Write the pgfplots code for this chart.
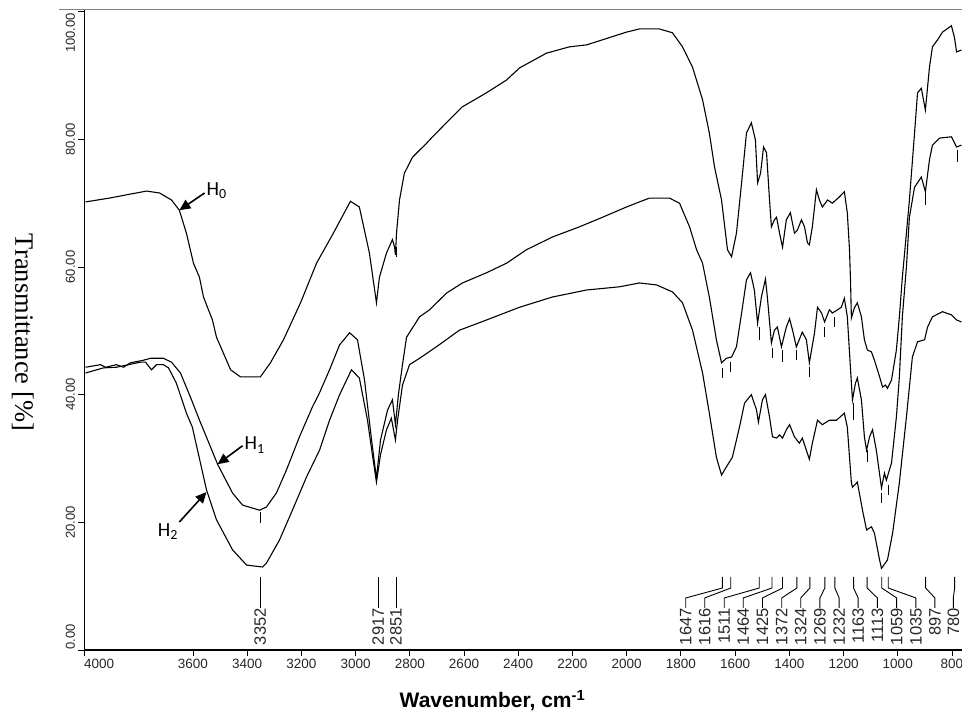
\documentclass[border=0pt]{standalone}
\usepackage{fontspec}
\setmainfont{Liberation Sans}
\newfontfamily\seriffont{Liberation Serif}
\newfontfamily\calibrifont{Carlito}
\usepackage{pgfplots}
\pgfplotsset{compat=1.18}
\usetikzlibrary{arrows.meta}
\newcommand\peakfont{\fontsize{16.5}{18}\selectfont}
\newcommand\ytfont{\fontsize{13}{15}\selectfont}
\newcommand\peaklab[3]{\draw[line width=0.9pt] (axis cs:#1,11.44) -- (axis cs:#1,9.71) -- (axis cs:#2,8.15) -- (axis cs:#2,6.58) node[rotate=90, anchor=east, inner sep=0pt, font=\peakfont, text=black!85] {#3};}
\newcommand\tk[3]{\draw[line width=0.9pt] (axis cs:#1,#2) -- (axis cs:#1,#3);}

\pgfplotstableread{
w v
3996 70.2
3908 70.8
3834 71.4
3771 71.9
3723 71.6
3679 70.5
3650 68.9
3624 65.3
3598 60.6
3576 58.4
3561 55.3
3528 51.7
3513 49.0
3461 43.9
3425 42.8
3351 42.8
3314 45.0
3266 48.6
3203 54.4
3144 60.6
3082 65.3
3019 70.3
2986 69.4
2949 62.2
2923 54.4
2912 58.4
2886 62.2
2864 64.3
2856 63.1
2853 61.9
2849 65.3
2838 70.5
2820 74.7
2790 77.2
2738 79.4
2716 80.4
2665 82.6
2606 85.1
2517 87.3
2443 89.3
2395 91.2
2296 93.5
2211 94.5
2148 94.8
2089 95.6
2001 96.8
1953 97.3
1879 97.3
1831 96.7
1794 94.5
1757 91.3
1720 86.2
1695 81.0
1676 75.7
1650 70.5
1628 62.7
1613 61.6
1595 65.3
1576 73.2
1558 81.0
1540 82.6
1525 79.9
1517 73.2
1506 74.7
1495 78.8
1484 77.9
1473 70.5
1466 66.3
1455 67.4
1447 67.8
1436 65.3
1425 63.1
1411 67.4
1396 68.5
1381 65.3
1370 65.8
1355 67.4
1344 66.3
1333 63.8
1326 63.5
1315 66.3
1300 72.1
1289 70.5
1278 69.4
1259 70.5
1241 70.0
1215 71.0
1197 71.8
1186 68.5
1178 62.7
1174 57.5
1171 52.0
1160 53.6
1149 54.4
1134 52.2
1123 48.6
1112 47.0
1097 46.7
1086 45.4
1067 42.8
1056 41.2
1045 41.5
1038 41.0
1023 42.3
1005 47.0
994 52.2
983 58.4
968 65.3
957 70.5
938 81.0
927 87.3
913 88.0
898 84.6
883 91.3
872 94.5
853 95.6
835 96.8
802 97.8
791 96.0
783 93.7
765 94.0
}\Hzero

\pgfplotstableread{
w v
3996 44.3
3941 44.7
3922 44.3
3882 44.7
3856 44.3
3830 45.0
3782 45.4
3757 45.7
3709 45.7
3679 45.1
3646 43.4
3609 39.6
3572 35.6
3565 34.9
3509 29.1
3454 24.6
3417 22.7
3354 21.9
3329 22.4
3292 24.6
3255 28.2
3207 33.4
3159 38.1
3133 40.3
3096 43.9
3059 47.8
3022 49.7
2993 48.6
2967 42.3
2941 32.9
2923 26.9
2908 32.9
2882 37.6
2864 39.2
2853 35.3
2842 40.0
2827 44.7
2812 49.0
2764 52.2
2727 53.3
2665 55.9
2606 57.5
2517 59.1
2443 60.6
2370 62.7
2274 64.7
2174 66.3
2089 67.8
2001 69.4
1953 70.2
1916 70.8
1842 70.8
1805 70.0
1768 66.3
1742 62.7
1720 60.6
1695 55.3
1669 48.6
1650 45.0
1632 45.7
1613 45.9
1595 47.5
1576 52.8
1558 58.0
1543 59.1
1529 56.4
1517 51.2
1503 55.3
1488 58.1
1481 55.3
1466 48.1
1455 50.1
1444 50.6
1429 47.5
1411 50.6
1399 51.9
1388 50.1
1374 47.5
1352 49.8
1337 48.6
1326 45.0
1307 49.7
1296 53.7
1281 52.8
1270 51.4
1252 53.3
1241 52.8
1222 53.3
1208 53.7
1197 55.1
1186 52.2
1171 41.8
1167 39.2
1156 41.8
1149 42.6
1134 39.2
1123 33.4
1115 31.3
1104 33.4
1093 34.5
1079 31.3
1060 25.4
1049 27.7
1042 26.6
1023 29.3
1005 36.5
994 42.8
983 52.2
968 60.0
957 67.8
938 72.5
913 74.1
898 71.8
883 76.8
872 79.1
846 80.2
802 80.4
783 78.8
765 79.1
}\Hone

\pgfplotstableread{
w v
3996 43.4
3930 44.2
3882 44.3
3793 45.1
3775 45.1
3753 43.9
3734 44.7
3709 44.7
3690 44.2
3661 41.8
3624 37.1
3602 34.9
3550 25.1
3513 20.4
3454 15.7
3402 13.3
3343 13.0
3329 13.6
3281 17.2
3233 21.9
3181 27.1
3133 31.3
3096 36.0
3059 40.0
3015 43.9
2986 42.6
2956 36.0
2938 30.6
2923 26.3
2908 30.6
2886 34.5
2868 36.3
2853 32.9
2845 36.0
2827 41.5
2801 44.7
2764 45.7
2702 47.5
2617 50.1
2517 51.7
2395 53.7
2274 55.3
2148 56.4
2027 56.9
1953 57.5
1890 57.2
1831 56.1
1794 54.4
1757 50.1
1720 43.4
1695 37.1
1669 30.2
1650 27.4
1632 28.7
1610 30.2
1584 34.9
1565 38.7
1540 40.0
1521 37.6
1514 35.7
1499 39.2
1488 40.0
1473 36.5
1462 33.4
1447 33.2
1436 33.7
1425 33.2
1411 34.5
1399 35.3
1381 33.4
1363 32.4
1352 33.2
1337 31.3
1326 29.9
1315 32.4
1296 36.0
1278 35.3
1252 36.0
1226 36.0
1197 37.1
1186 34.9
1171 26.2
1167 25.5
1149 26.3
1130 21.9
1115 18.8
1097 19.3
1086 18.3
1067 14.1
1060 12.8
1038 14.1
1019 18.3
994 26.2
968 36.5
946 45.9
927 48.3
901 48.6
890 50.6
872 52.2
835 53.0
802 52.5
783 51.7
765 51.4
}\Htwo

\begin{document}
\begin{tikzpicture}
\begin{axis}[
  scale only axis, width=877.5pt, height=640pt,
  x dir=reverse, xmin=763, xmax=4000, ymin=0, ymax=100.27,
  axis lines*=left,
  axis line style={-, line width=1.6pt, black},
  xtick={3600,3400,3200,3000,2800,2600,2400,2200,2000,1800,1600,1400,1200,1000,800},
  extra x ticks={4000},
  extra x tick style={xticklabel style={anchor=north west, xshift=-4pt}},
  ytick={0,20,40,60,80,100},
  yticklabel style={opacity=0},
  tick align=outside, major tick length=6pt,
  tick style={black, line width=0.8pt},
  xticklabel style={font=\fontsize{13.5}{16}\selectfont, text=black!85},
  /pgf/number format/1000 sep={},
  /pgf/number format/assume math mode=true,
  clip=false,
]
\addplot[black, line width=1.1pt] table[x=w, y=v] {\Hzero};
\addplot[black, line width=1.1pt] table[x=w, y=v] {\Hone};
\addplot[black, line width=1.1pt] table[x=w, y=v] {\Htwo};

% y tick labels
\node[rotate=90, anchor=base west, font=\ytfont, text=black!85, inner sep=0pt] at ([xshift=-9.5pt]axis cs:4000,0) {0.00};
\node[rotate=90, anchor=base, font=\ytfont, text=black!85, inner sep=0pt] at ([xshift=-9.5pt]axis cs:4000,20) {20.00};
\node[rotate=90, anchor=base, font=\ytfont, text=black!85, inner sep=0pt] at ([xshift=-9.5pt]axis cs:4000,40) {40.00};
\node[rotate=90, anchor=base, font=\ytfont, text=black!85, inner sep=0pt] at ([xshift=-9.5pt]axis cs:4000,60) {60.00};
\node[rotate=90, anchor=base, font=\ytfont, text=black!85, inner sep=0pt] at ([xshift=-9.5pt]axis cs:4000,80) {80.00};
\node[rotate=90, anchor=base east, font=\ytfont, text=black!85, inner sep=0pt] at ([xshift=-9.5pt]axis cs:4000,99.8) {100.00};

% peak labels
\peaklab{3352}{3352}{3352}
\peaklab{2917}{2917}{2917}
\peaklab{2851}{2851}{2851}
\peaklab{1647}{1782}{1647}
\peaklab{1616}{1712}{1616}
\peaklab{1511}{1640}{1511}
\peaklab{1464}{1570}{1464}
\peaklab{1425}{1499}{1425}
\peaklab{1372}{1428}{1372}
\peaklab{1324}{1358}{1324}
\peaklab{1269}{1287}{1269}
\peaklab{1232}{1216}{1232}
\peaklab{1163}{1146}{1163}
\peaklab{1113}{1075}{1113}
\peaklab{1059}{1004}{1059}
\peaklab{1035}{933}{1035}
\peaklab{897}{863}{897}
\peaklab{790}{795}{780}

% peak ticks on H1
\tk{3352}{21.6}{19.9}
\tk{1647}{44.2}{42.6}
\tk{1616}{45.1}{43.6}
\tk{1511}{50.6}{48.6}
\tk{1464}{47.3}{45.7}
\tk{1425}{47.0}{45.1}
\tk{1372}{47.0}{45.4}
\tk{1324}{44.3}{42.8}
\tk{1269}{50.6}{49.0}
\tk{1232}{52.2}{50.6}
\tk{1163}{38.7}{36.0}
\tk{1113}{31.3}{29.5}
\tk{1059}{24.6}{23.0}
\tk{1035}{25.9}{24.3}
\tk{897}{71.6}{69.7}
\tk{780}{78.3}{76.5}
\tk{2851}{63.1}{61.6}

% sample labels
\draw[line width=1.6pt, -{Triangle[length=11pt,width=10pt]}] (axis cs:3557,71.6) -- (axis cs:3650,68.9);
\node[anchor=west, inner sep=0pt, font=\calibrifont\fontsize{20}{24}\selectfont] at (axis cs:3550,71.9) {H\textsubscript{0}};
\draw[line width=1.6pt, -{Triangle[length=11pt,width=10pt]}] (axis cs:3417,32.0) -- (axis cs:3509,29.1);
\node[anchor=west, inner sep=0pt, font=\calibrifont\fontsize{20}{24}\selectfont] at (axis cs:3410,32.1) {H\textsubscript{1}};
\draw[line width=1.6pt, -{Triangle[length=11pt,width=10pt]}] (axis cs:3650,20.05) -- (axis cs:3550,24.75);
\node[anchor=center, inner sep=0pt, font=\calibrifont\fontsize{20}{24}\selectfont] at (axis cs:3692,18.6) {H\textsubscript{2}};
\end{axis}
\draw[black!50, line width=0.8pt] (-25.5pt,640.5pt) -- (877.5pt,640.5pt);
\node[anchor=base, font=\bfseries\fontsize{21}{25}\selectfont] at (408pt,-58pt) {Wavenumber, cm\textsuperscript{-1}};
\node[rotate=-90, anchor=base, font=\seriffont\fontsize{26.5}{30}\selectfont] at (-69pt,317.5pt) {Transmittance [\%]};
\pgfresetboundingbox
\path[use as bounding box] (-84.5pt,-77pt) rectangle (877.5pt,650pt);
\end{tikzpicture}
\end{document}
